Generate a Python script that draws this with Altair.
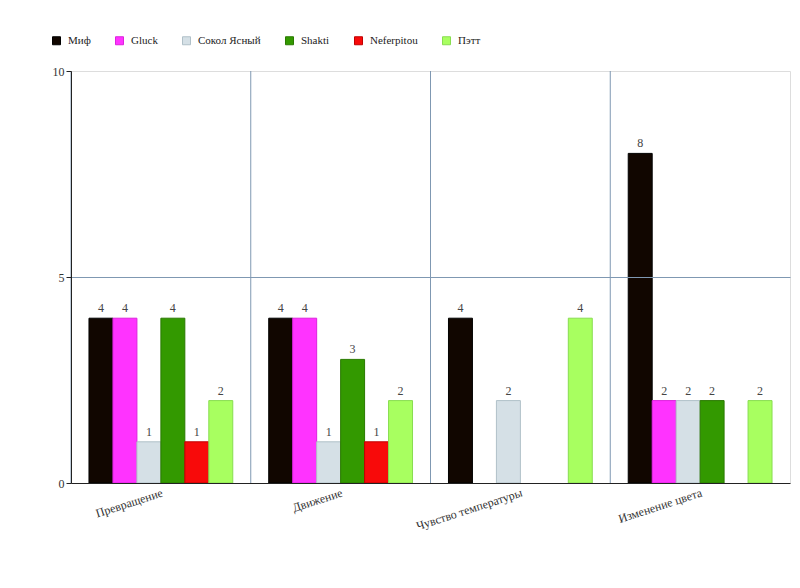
import altair as alt
import pandas as pd

categories = ["Превращение", "Движение", "Чувство температуры", "Изменение цвета"]
series = ["Миф", "Gluck", "Сокол Ясный", "Shakti", "Neferpitou", "Пэтт"]
colors = ["#110600", "#ff33ff", "#d5e0e6", "#339900", "#f80a0a", "#a8ff60"]
strokes = ["#000000", "#dd22dd", "#b0c0c8", "#2a7a00", "#c00000", "#88dd50"]

values = {
    "Миф":         [4, 4, 4, 8],
    "Gluck":       [4, 4, None, 2],
    "Сокол Ясный": [1, 1, 2, 2],
    "Shakti":      [4, 3, None, 2],
    "Neferpitou":  [1, 1, None, None],
    "Пэтт":        [2, 2, 4, 2],
}

rows = []
for s in series:
    for c, v in zip(categories, values[s]):
        if v is not None:
            rows.append({"cat": c, "series": s, "value": v})
df = pd.DataFrame(rows)
cat_df = pd.DataFrame({"cat": categories})

FONT = "Liberation Serif"

x_enc = alt.X(
    "cat:N", sort=categories, title=None,
    scale=alt.Scale(paddingInner=0, paddingOuter=0),
    axis=alt.Axis(labelAngle=342, labelAlign="right", labelBaseline="top",
                  labelFont=FONT, labelFontSize=12, labelColor="#333",
                  domainColor="#222", ticks=False, grid=False, labelPadding=4, zindex=1),
)
xoff = alt.XOffset("series:N", sort=series,
                   scale=alt.Scale(domain=series, paddingOuter=0.75, paddingInner=0))
y_enc = alt.Y(
    "value:Q", title=None,
    scale=alt.Scale(domain=[0, 10]),
    axis=alt.Axis(values=[0, 5, 10], labelFont=FONT, labelFontSize=12, labelColor="#333",
                  domainColor="#222", tickColor="#222", tickSize=5,
                  gridColor={"condition": {"test": "datum.value === 5", "value": "#7f98b2"},
                             "value": "transparent"},
                  grid=True, zindex=1),
)

rules = alt.Chart(cat_df).mark_rule(color="#7f98b2", strokeWidth=1).encode(
    x=alt.X("cat:N", sort=categories, bandPosition=0),
)

bars = alt.Chart(df).mark_bar(strokeWidth=1).encode(
    x=x_enc, xOffset=xoff, y=y_enc,
    color=alt.Color("series:N", sort=series,
                    scale=alt.Scale(domain=series, range=colors),
                    legend=alt.Legend(title=None, orient="none", direction="horizontal",
                                      legendX=-20, legendY=-36,
                                      symbolType="square", symbolSize=64,
                                      symbolStrokeColor="#000", symbolStrokeWidth=1,
                                      labelFont=FONT, labelFontSize=11, labelColor="#222",
                                      labelOffset=6, columnPadding=22)),
    stroke=alt.Stroke("series:N", sort=series,
                      scale=alt.Scale(domain=series, range=strokes), legend=None),
)

labels = alt.Chart(df).mark_text(dy=-3, baseline="bottom", font=FONT, fontSize=12,
                                 color="#444").encode(
    x=x_enc, xOffset=xoff, y=y_enc, text="value:Q",
)

chart = alt.layer(rules, bars, labels).properties(
    width=719, height=412,
    autosize=alt.AutoSizeParams(type="none"),
    padding={"left": 63, "top": 63, "right": 2, "bottom": 90},
).configure_view(stroke="#777", strokeWidth=1).configure(background="white", font=FONT)

chart.save("out.html", embed_options={"renderer": "svg", "actions": False})
